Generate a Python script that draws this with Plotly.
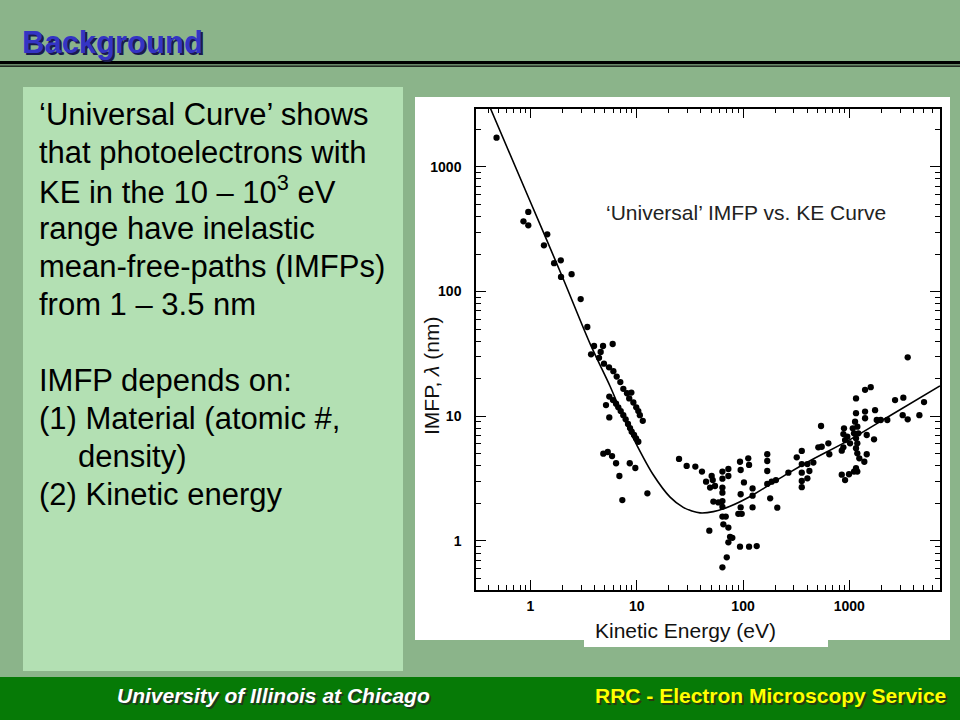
import plotly.graph_objects as go

# ---------------- data ----------------
# Measured IMFP points: kinetic energy (eV) and IMFP (nm)
ke_points = [
    0.48, 0.86, 0.955, 0.955, 1.34, 1.44, 1.67, 1.93, 1.94, 2.44, 2.97, 3.43,
    3.97, 4.82, 5.94, 4.58, 3.72, 4.42,
    4.92, 5.49, 6.03, 6.48, 7.01, 7.48, 8.1, 8.9, 8.5, 9.3, 9.9, 10.35, 10.7, 11.4,
    5.52, 5.98, 5.14, 6.39, 6.71, 7.07, 7.48, 7.87, 8.28, 8.65, 8.97, 9.43, 9.85, 10.35, 5.52,
    4.85, 5.34, 5.86, 6.39, 6.87, 8.6, 9.7, 7.32, 12.6,
    25, 29.5, 35.6, 41.1, 44.9, 50.7, 51.9, 49, 54.5, 64, 64, 72.8, 72.8, 64, 64,
    52.6, 58.6, 64, 64, 64, 68.8, 65.3, 72.8, 48.2, 75.5, 79.3, 72.8,
    93.7, 112, 114, 95, 102, 95, 123, 123, 95, 90.3, 97.2, 123, 93.7, 114, 134.5,
    70.3, 64, 169, 169, 169, 169, 186, 204, 180, 210, 267,
    320, 357, 357, 357, 357, 357, 403, 403, 421, 459, 511, 550, 542, 635, 648,
    849, 879, 849, 912, 993, 891, 879, 957, 912, 1016, 1077, 1107,
    1156, 1156, 1132, 1189, 1216, 1156, 1189, 1156, 1189, 1242, 1156, 1189, 1107,
    1406, 1590, 1406, 1406, 1746, 1811, 1708, 1458, 1384, 1458,
    1974, 2278, 2693, 3222, 3177, 3541, 4561, 5044, 3541,
]
imfp_points = [
    1715, 366, 435, 340, 235, 288, 169, 178, 131, 138, 87, 52,
    36.6, 36.6, 38, 32.8, 31.4, 29.4,
    26.4, 24.7, 23.0, 20.8, 18.8, 16.6, 15.3, 15.5, 13.9, 12.9, 11.8, 11.0, 10.2, 9.2,
    14.4, 13.5, 12.3, 12.6, 11.8, 11.0, 10.2, 9.46, 8.67, 8.05, 7.53, 7.08, 6.66, 6.25, 9.8,
    5.01, 5.17, 4.8, 4.2, 3.32, 4.2, 3.85, 2.13, 2.41,
    4.55, 4.0, 3.95, 3.6, 2.99, 3.32, 3.08, 2.68, 2.76, 3.6, 3.16, 3.78, 3.32, 2.68, 2.44,
    2.07, 2.04, 2.09, 1.88, 1.57, 1.57, 1.36, 1.28, 1.21, 1.08, 1.06, 0.975,
    4.32, 4.6, 4.07, 3.71, 2.95, 2.37, 2.64, 2.31, 1.86, 1.65, 1.65, 1.86, 0.90, 0.90, 0.91,
    0.74, 0.615, 4.96, 4.38, 3.64, 2.87, 2.99, 3.08, 2.2, 1.85, 3.53,
    4.69, 5.27, 4.14, 3.53, 3.03, 2.7, 4.14, 3.18, 3.64, 4.25, 5.64, 5.7, 8.36, 6.07, 4.96,
    5.3, 5.64, 3.4, 3.08, 3.43, 8.0, 7.2, 6.86, 6.45, 6.07, 8.0, 7.3,
    13.9, 10.6, 9.05, 8.26, 7.3, 6.66, 6.07, 5.54, 5.05, 4.6, 3.83, 3.6, 3.6,
    16.3, 17.1, 10.9, 9.64, 11.2, 9.34, 6.54, 7.08, 4.32, 4.96,
    9.34, 9.34, 13.5, 14.1, 10.2, 9.46, 10.2, 13.0, 29.7,
]

# 'Universal' curve, points
curve_ke = [0.42, 1.0, 2.0, 3.7, 5.6, 7.5, 10, 14.3, 20.6, 27.4, 33, 39.4, 52.6,
            75.5, 125, 180, 267, 427, 1014, 2410, 7120]
curve_imfp = [2950, 523, 131, 37, 17.5, 9.8, 5.9, 3.4, 2.25, 1.86, 1.74, 1.68, 1.72,
              1.9, 2.35, 2.85, 3.5, 4.4, 6.5, 10.1, 17.5]

tick_vals = [1, 10, 100, 1000]
tick_text = ["1", "10", "100", "1000"]

title_text = "Background"
chart_title = "\u2018Universal\u2019 IMFP vs. KE Curve"
x_title = "Kinetic Energy (eV)"
y_title = "IMFP, <i>\u03bb</i> (nm)"
body_lines = [
    "\u2018Universal Curve\u2019 shows",
    "that photoelectrons with",
    "KE in the 10 \u2013 10<sup>3</sup> eV",
    "range have inelastic",
    "mean-free-paths (IMFPs)",
    "from 1 \u2013 3.5 nm",
    "",
    "IMFP depends on:",
    "(1) Material (atomic #,",
    "density)",
    "(2) Kinetic energy",
]
body_indent = [0, 0, 0, 0, 0, 0, 0, 0, 0, 39, 0]
footer_left = "University of Illinois at Chicago"
footer_right = "RRC - Electron Microscopy Service"

# ---------------- helpers: pixel -> paper ----------------
W, H = 960, 720
def px(x):
    return x / W
def py(y):
    return 1 - y / H

FONT = "Liberation Sans, Arial, sans-serif"

fig = go.Figure()
fig.add_trace(go.Scatter(
    x=curve_ke, y=curve_imfp, mode="lines",
    line=dict(color="black", width=1.6, shape="spline", smoothing=0.9),
    hoverinfo="skip"))
fig.add_trace(go.Scatter(
    x=ke_points, y=imfp_points, mode="markers",
    marker=dict(color="black", size=6.3, line=dict(width=0))))

minor_vals = [m * 10 ** k for k in range(-1, 4) for m in range(2, 10)]

axis_common = dict(
    type="log", showgrid=False, zeroline=False,
    showline=True, linecolor="black", linewidth=1.5, mirror="allticks",
    ticks="inside", ticklen=10, tickwidth=1.2, tickcolor="black",
    tickmode="array", tickvals=tick_vals, ticktext=tick_text,
    tickfont=dict(family=FONT, size=14, color="black", weight="bold"),
    minor=dict(ticks="inside", ticklen=5, tickwidth=1, tickcolor="black",
               tickmode="array", tickvals=minor_vals, showgrid=False),
)

fig.update_xaxes(**axis_common, range=[-0.512, 3.853],
                 domain=[px(476), px(940)], ticklabelstandoff=2)
fig.update_yaxes(**axis_common, range=[-0.393, 3.468],
                 domain=[py(590), py(108.5)], ticklabelstandoff=10)

shapes = [
    # text panel
    dict(type="rect", xref="paper", yref="paper", x0=px(23), x1=px(403),
         y0=py(671), y1=py(87), fillcolor="#B3E0B3", line=dict(width=0), layer="below"),
    # white chart panel
    dict(type="rect", xref="paper", yref="paper", x0=px(415), x1=px(950),
         y0=py(640), y1=py(97), fillcolor="white", line=dict(width=0), layer="below"),
    # x title box
    dict(type="rect", xref="paper", yref="paper", x0=px(584), x1=px(828),
         y0=py(647), y1=py(617), fillcolor="white", line=dict(width=0), layer="below"),
    # footer bar
    dict(type="rect", xref="paper", yref="paper", x0=0, x1=1,
         y0=0, y1=py(677), fillcolor="#067A06", line=dict(width=0), layer="below"),
    # heading rules
    dict(type="rect", xref="paper", yref="paper", x0=0, x1=1,
         y0=py(64.3), y1=py(61), fillcolor="black", line=dict(width=0), layer="below"),
    dict(type="rect", xref="paper", yref="paper", x0=0, x1=1,
         y0=py(66.8), y1=py(65.6), fillcolor="black", line=dict(width=0), layer="below"),
]

ann = []
def text(x, y, s, size, color="black", xanchor="left", bold=False, italic=False,
         angle=0, family=FONT):
    ann.append(dict(
        x=px(x), y=py(y), xref="paper", yref="paper", text=s, showarrow=False,
        xanchor=xanchor, yanchor="middle", textangle=angle,
        font=dict(family=family, size=size, color=color,
                  weight="bold" if bold else "normal",
                  style="italic" if italic else "normal")))

# heading with shadow
text(22, 44, title_text, 31, color="#1A1A50", bold=True)
text(20, 42, title_text, 31, color="#3434C4", bold=True)

# body text
y0 = 114
for i, line in enumerate(body_lines):
    if line:
        text(37 + body_indent[i], y0 + i * 38, line, 31)

# chart texts
text(746, 212, chart_title, 21, color="#222222", xanchor="center")
text(685, 630, x_title, 21, color="#111111", xanchor="center")
text(431, 376, y_title, 21, color="#111111", xanchor="center", angle=-90)

# footer with shadows
text(275, 697, footer_left, 21, color="#1E3A1E", xanchor="center", bold=True, italic=True)
text(273.5, 695.5, footer_left, 21, color="white", xanchor="center", bold=True, italic=True)
text(949.5, 697, footer_right, 21, color="#2A3A10", xanchor="right", bold=True)
text(948, 695.5, footer_right, 21, color="#FFFF00", xanchor="right", bold=True)

fig.update_layout(
    width=W, height=H, margin=dict(l=0, r=0, t=0, b=0),
    paper_bgcolor="#8BB48A", plot_bgcolor="white",
    showlegend=False, shapes=shapes, annotations=ann,
)

fig.write_html("out.html", config={"displayModeBar": False})

# remove the browser's default page margin so the slide sits at (0, 0)
with open("out.html", "r", encoding="utf-8") as f:
    html = f.read()
html = html.replace("<head>", "<head><style>html,body{margin:0;padding:0;overflow:hidden;}</style>", 1)
with open("out.html", "w", encoding="utf-8") as f:
    f.write(html)
